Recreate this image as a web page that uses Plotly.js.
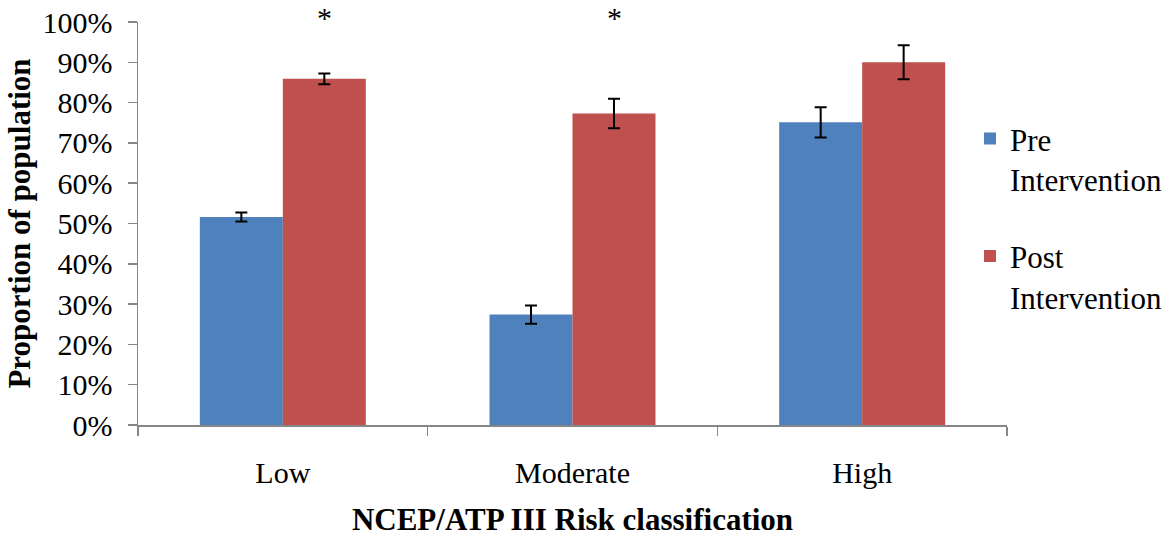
<!DOCTYPE html>
<html>
<head>
<meta charset="utf-8">
<script src="https://cdn.plot.ly/plotly-3.0.1.min.js"></script>
<style>html,body{margin:0;padding:0;background:#fff;}#chart{width:1170px;height:537px;}</style>
</head>
<body>
<div id="chart"></div>
<script>
var categories = ["Low", "Moderate", "High"];
var preValues = [0.516, 0.274, 0.751];
var preErrors = [0.011, 0.0225, 0.0375];
var postValues = [0.859, 0.773, 0.900];
var postErrors = [0.0135, 0.0365, 0.042];
var seriesNames = ["Pre<br>Intervention", "Post<br>Intervention"];
var significance = ["*", "*", ""];
var yTickVals = [0, 0.1, 0.2, 0.3, 0.4, 0.5, 0.6, 0.7, 0.8, 0.9, 1.0];

var FONT = "'Liberation Serif', 'Times New Roman', Times, serif";
var AXIS_GRAY = "#868686";

var traces = [
  {
    type: "bar", name: seriesNames[0], x: categories, y: preValues,
    marker: {color: "#4F81BD"}, legendgroup: "pre",
    error_y: {type: "data", array: preErrors, visible: true, color: "#000", thickness: 2, width: 6}
  },
  {
    type: "bar", name: seriesNames[1], x: categories, y: postValues,
    marker: {color: "#C0504D"}, legendgroup: "post",
    error_y: {type: "data", array: postErrors, visible: true, color: "#000", thickness: 2, width: 6}
  }
];

var annotations = [];
categories.forEach(function (c, i) {
  if (significance[i]) {
    annotations.push({
      xref: "x", yref: "y", x: i + 0.1433, y: 1.0, yanchor: "top", yshift: 23,
      text: significance[i], showarrow: false,
      font: {family: FONT, size: 30, color: "#000"}
    });
  }
});

var layout = {
  width: 1170, height: 537,
  margin: {l: 138, r: 163, t: 22, b: 112, pad: 0, autoexpand: false},
  paper_bgcolor: "#fff", plot_bgcolor: "#fff",
  font: {family: FONT, size: 30, color: "#000"},
  barmode: "group", bargap: 0.427, bargroupgap: 0,
  showlegend: true,
  legend: {
    xref: "paper", x: 0.9574, xanchor: "left", y: 0.777, yanchor: "top",
    traceorder: "grouped", tracegroupgap: 34, valign: "top",
    font: {family: FONT, size: 31, color: "#000"},
    bgcolor: "rgba(0,0,0,0)", borderwidth: 0, itemwidth: 30
  },
  xaxis: {
    type: "category", showline: true, linecolor: AXIS_GRAY, linewidth: 1.5,
    ticks: "outside", tickson: "boundaries", ticklen: 9, tickcolor: AXIS_GRAY, tickwidth: 1.5,
    showgrid: false, zeroline: false, automargin: false,
    tickfont: {family: FONT, size: 30, color: "#000"},
    ticklabelstandoff: 20,
    title: {text: "<b>NCEP/ATP III Risk classification</b>", font: {family: FONT, size: 31, color: "#000"}, standoff: 24}
  },
  yaxis: {
    range: [0, 1], tickvals: yTickVals, tickformat: ".0%",
    showline: true, linecolor: AXIS_GRAY, linewidth: 1.5,
    ticks: "outside", ticklen: 9, tickcolor: AXIS_GRAY, tickwidth: 1.5,
    showgrid: false, zeroline: false, automargin: true,
    tickfont: {family: FONT, size: 30, color: "#000"},
    ticklabelstandoff: 9,
    title: {text: "<b>Proportion of population</b>", font: {family: FONT, size: 31, color: "#000"}, standoff: 2}
  },
  annotations: annotations
};

Plotly.newPlot("chart", traces, layout, {displayModeBar: false, staticPlot: true});
</script>
</body>
</html>
